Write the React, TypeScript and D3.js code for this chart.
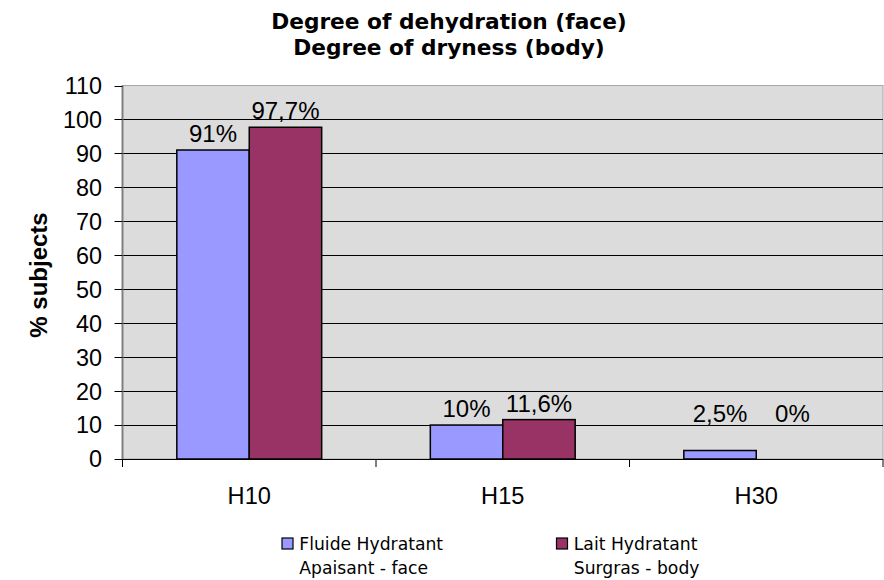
import React from "react";
import * as d3 from "d3";

const categories = ["H10", "H15", "H30"];
const seriesNames = ["Fluide Hydratant Apaisant - face", "Lait Hydratant Surgras - body"];
const legendLines = [["Fluide Hydratant", "Apaisant - face"], ["Lait Hydratant", "Surgras - body"]];
const faceValues = [91, 10, 2.5];
const bodyValues = [97.7, 11.6, 0];
const faceLabels = ["91%", "10%", "2,5%"];
const bodyLabels = ["97,7%", "11,6%", "0%"];
const yTicks = [0, 10, 20, 30, 40, 50, 60, 70, 80, 90, 100, 110];
const titleLines = ["Degree of dehydration (face)", "Degree of dryness (body)"];
const yAxisTitle = "% subjects";
const colors = ["#9999FF", "#993366"];

const W = 884, H = 580;
const L = 122.5, R = 883, T = 85.5, B = 459;
const TITLE_FONT = "'DejaVu Sans', Verdana, sans-serif";
const AXIS_FONT = "'Liberation Sans', Arial, sans-serif";

export default function App() {
  const y = d3.scaleLinear().domain([0, 110]).range([B, T]);
  const x0 = d3.scaleBand<string>().domain(categories).range([L, R]).padding(0);
  const bw = x0.bandwidth();
  const gap = (bw * 1.5) / 3.5;
  const x1 = d3.scaleBand<string>().domain(seriesNames).range([gap / 2, bw - gap / 2]).padding(0);
  const series = [
    { name: seriesNames[0], values: faceValues, labels: faceLabels, color: colors[0] },
    { name: seriesNames[1], values: bodyValues, labels: bodyLabels, color: colors[1] },
  ];
  const labelFloor = y(10.9);
  const boundaries = [L, ...categories.map((c) => (x0(c) as number) + bw)];

  return (
    <svg width={W} height={H} style={{ position: "absolute", left: 0, top: 0, display: "block" }}>
      <rect x={0} y={0} width={W} height={H} fill="#ffffff" />
      {/* title */}
      <g fontFamily={TITLE_FONT} fontSize={21.7} fontWeight="bold" fill="#000" textAnchor="middle">
        <text x={449} y={29.3}>{titleLines[0]}</text>
        <text x={449} y={55}>{titleLines[1]}</text>
      </g>
      {/* plot area */}
      <rect x={L} y={T} width={R - L} height={B - T} fill="#dcdcdc" stroke="#a6a6a6" strokeWidth={1} />
      {yTicks.filter((t) => t > 0 && t < 110).map((t) => (
        <line key={t} x1={L} x2={R} y1={Math.round(y(t)) + 0.5} y2={Math.round(y(t)) + 0.5} stroke="#000" strokeWidth={1} />
      ))}
      {/* bars */}
      {categories.map((c, i) => (
        <g key={c} transform={`translate(${x0(c)},0)`}>
          {series.map((s) => (
            <rect key={s.name} x={x1(s.name)} y={y(s.values[i])} width={x1.bandwidth()} height={B - y(s.values[i])}
              fill={s.color} stroke="#000" strokeWidth={1.5} />
          ))}
        </g>
      ))}
      {/* data labels */}
      <g fontFamily={AXIS_FONT} fontSize={24} fill="#000" textAnchor="middle">
        {categories.map((c, i) => (
          <g key={c + "l"} transform={`translate(${x0(c)},0)`}>
            {series.map((s) => (
              <text key={s.name} x={(x1(s.name) as number) + x1.bandwidth() / 2}
                y={Math.min(y(s.values[i]) - 8, labelFloor)}>{s.labels[i]}</text>
            ))}
          </g>
        ))}
      </g>
      {/* y axis */}
      <line x1={L} x2={L} y1={T} y2={B} stroke="#808080" strokeWidth={2} />
      <g fontFamily={AXIS_FONT} fontSize={23.4} fill="#000" textAnchor="end">
        {yTicks.map((t) => (
          <g key={t}>
            <line x1={L - 8} x2={L} y1={Math.round(y(t)) + 0.5} y2={Math.round(y(t)) + 0.5} stroke="#000" strokeWidth={1} />
            <text x={102} y={y(t)} dy="0.36em">{t}</text>
          </g>
        ))}
      </g>
      {/* x axis */}
      <line x1={L} x2={R} y1={B + 0.5} y2={B + 0.5} stroke="#000" strokeWidth={1.2} />
      {boundaries.map((bx, i) => (
        <line key={i} x1={bx} x2={bx} y1={B} y2={B + 8} stroke="#000" strokeWidth={1} />
      ))}
      <g fontFamily={AXIS_FONT} fontSize={23.6} fill="#000" textAnchor="middle">
        {categories.map((c) => (
          <text key={c} x={(x0(c) as number) + bw / 2} y={504}>{c}</text>
        ))}
      </g>
      {/* y title */}
      <text transform={`translate(47,${275}) rotate(-90)`} textAnchor="middle" fontFamily={AXIS_FONT}
        fontSize={24} fontWeight="bold" fill="#000">{yAxisTitle}</text>
      {/* legend */}
      <g fontFamily={TITLE_FONT} fontSize={17.2} fill="#000">
        {legendLines.map((lines, i) => {
          const lx = i === 0 ? 282 : 556.5;
          return (
            <g key={i}>
              <rect x={lx} y={538} width={11} height={11} fill={colors[i]} stroke="#000" strokeWidth={1.2} />
              <text x={lx + 17.3} y={550}>{lines[0]}</text>
              <text x={lx + 17.3} y={574.3}>{lines[1]}</text>
            </g>
          );
        })}
      </g>
    </svg>
  );
}
